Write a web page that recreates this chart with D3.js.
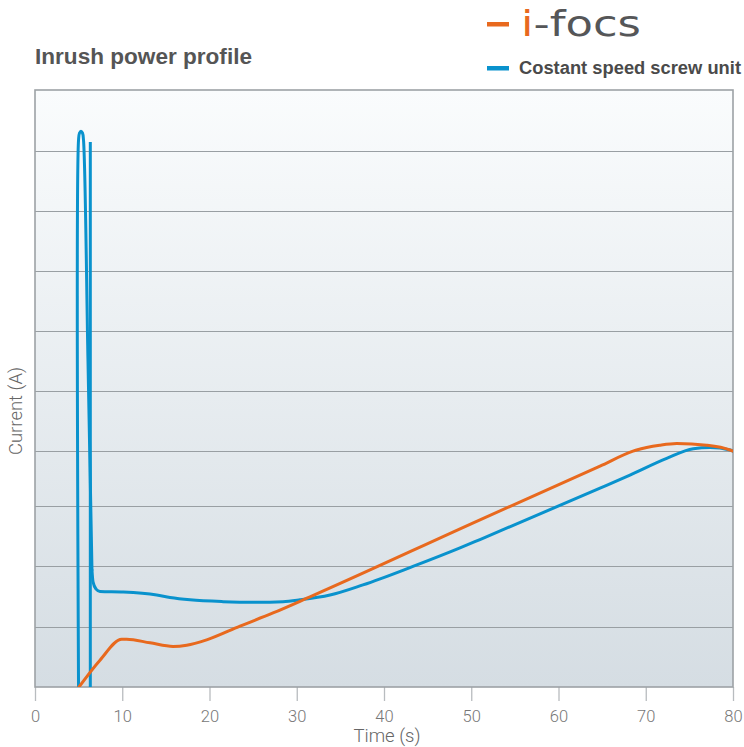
<!DOCTYPE html>
<html>
<head>
<meta charset="utf-8">
<title>Inrush power profile</title>
<script src="https://cdn.jsdelivr.net/npm/d3@7"></script>
<style>
    body { margin: 0; background: #fff; }
    svg { display: block; }
</style>
</head>
<body>
<div id="chart"></div>
<script>
"use strict";

// x ticks (time in s)
var xTicks = [0, 10, 20, 30, 40, 50, 60, 70, 80];
// horizontal grid lines (no labels on the y axis in the original)
var gridValues = [1.005, 2.03, 3.03, 3.95, 4.96, 5.96, 6.97, 7.97, 8.98];

// i-focs series : [time, current]
var ifocsTime    = [5.04, 7.45, 9.94, 10.51, 13.18, 15.82, 17.39, 19.68, 23.5, 27.28, 31.52, 51.0, 64.76, 68.54, 68.96, 71.6, 73.55, 76.98, 79.66, 80];
var ifocsCurrent = [0, 0.45, 0.80, 0.80, 0.74, 0.68, 0.70, 0.79, 1.02, 1.24, 1.51, 2.80, 3.70, 3.95, 3.97, 4.05, 4.08, 4.05, 3.97, 3.95];

// constant speed screw unit : start-up spike, then the running curve
var screwSpikeTime    = [4.99, 4.99, 5.10, 5.27, 5.44, 5.56, 6.07, 6.53];
var screwSpikeCurrent = [0, 9.16, 9.28, 9.31, 9.28, 9.16, 5.48, 1.96];
var screwTime    = [6.53, 6.65, 7.0, 7.45, 10.12, 13.95, 15.47, 17.77, 21.55, 25.41, 28.42, 30.37, 33.81, 37.59, 43.32, 48.71, 51.0, 64.76, 68.19, 72.4, 75.45, 77.36, 79.66, 80];
var screwCurrent = [1.96, 1.76, 1.64, 1.60, 1.59, 1.54, 1.50, 1.46, 1.43, 1.42, 1.43, 1.46, 1.54, 1.71, 2.02, 2.33, 2.47, 3.33, 3.55, 3.83, 3.99, 4.01, 3.97, 3.95];

// the second vertical stroke of the screw unit start-up
var screwStrokeTime    = [6.34, 6.34];
var screwStrokeCurrent = [0, 9.13];

var width = 744, height = 747;
var margin = {top: 90, right: 11, bottom: 60, left: 35};

var ORANGE = '#e8691e', BLUE = '#0992cd';

var svg = d3.select('#chart').append('svg')
    .attr('width', width).attr('height', height);

var x = d3.scaleLinear().domain([0, 80]).range([margin.left, width - margin.right]);
var y = d3.scaleLinear().domain([0, 10]).range([height - margin.bottom, margin.top]);

var defs = svg.append('defs');
var bg = defs.append('linearGradient').attr('id', 'bg')
    .attr('x1', 0).attr('y1', 0).attr('x2', 0).attr('y2', 1);
bg.append('stop').attr('offset', '0%').attr('stop-color', '#fafcfd');
bg.append('stop').attr('offset', '100%').attr('stop-color', '#d5dde3');

defs.append('clipPath').attr('id', 'plotclip').append('rect')
    .attr('x', x(0)).attr('y', y(10))
    .attr('width', x(80) - x(0)).attr('height', y(0) - y(10));

// plot background
svg.append('rect')
    .attr('x', x(0)).attr('y', y(10))
    .attr('width', x(80) - x(0)).attr('height', y(0) - y(10))
    .attr('fill', 'url(#bg)');

// grid lines
svg.append('g').selectAll('line').data(gridValues).enter().append('line')
    .attr('x1', x(0)).attr('x2', x(80))
    .attr('y1', function(d) { return Math.round(y(d)) + 0.5; })
    .attr('y2', function(d) { return Math.round(y(d)) + 0.5; })
    .attr('stroke', '#999fa3').attr('stroke-width', 1.2);

// x axis
var xAxis = svg.append('g')
    .attr('transform', 'translate(0,' + y(0) + ')')
    .call(d3.axisBottom(x).tickValues(xTicks).tickSize(14).tickPadding(9));
xAxis.select('.domain').remove();
xAxis.selectAll('.tick line').attr('stroke', '#b8bcbf').attr('stroke-width', 1.3);
xAxis.selectAll('.tick text')
    .attr('fill', '#777').attr('font-size', 16.5)
    .attr('font-family', 'Roboto, "Liberation Sans", sans-serif').attr('font-weight', 300);

// frame
svg.append('rect')
    .attr('x', x(0)).attr('y', y(10))
    .attr('width', x(80) - x(0)).attr('height', y(0) - y(10))
    .attr('fill', 'none').attr('stroke', '#9da2a6').attr('stroke-width', 1.6);

// lines
function makeLine(curve) {
    return d3.line()
        .x(function(d) { return x(d[0]); })
        .y(function(d) { return y(d[1]); })
        .curve(curve);
}
var spikeLine = makeLine(d3.curveCatmullRom.alpha(0.5));
var smoothLine = makeLine(d3.curveMonotoneX);
var straight = makeLine(d3.curveLinear);

var plot = svg.append('g').attr('clip-path', 'url(#plotclip)')
    .attr('fill', 'none').attr('stroke-width', 3)
    .attr('stroke-linejoin', 'round').attr('stroke-linecap', 'round');

plot.append('path').datum(d3.zip(screwSpikeTime, screwSpikeCurrent))
    .attr('d', spikeLine).attr('stroke', BLUE);
plot.append('path').datum(d3.zip(screwTime, screwCurrent))
    .attr('d', smoothLine).attr('stroke', BLUE);
plot.append('path').datum(d3.zip(screwStrokeTime, screwStrokeCurrent))
    .attr('d', straight).attr('stroke', BLUE).attr('stroke-linecap', 'butt');
plot.append('path').datum(d3.zip(ifocsTime, ifocsCurrent))
    .attr('d', smoothLine).attr('stroke', ORANGE);

// titles
svg.append('text')
    .attr('x', 35).attr('y', 64)
    .attr('font-family', '"Liberation Sans", Arial, sans-serif')
    .attr('font-weight', 'bold').attr('font-size', 22)
    .attr('textLength', 217).attr('lengthAdjust', 'spacingAndGlyphs')
    .attr('fill', '#555')
    .text('Inrush power profile');

svg.append('text')
    .attr('transform', 'translate(22,' + 411 + ') rotate(-90)')
    .attr('text-anchor', 'middle')
    .attr('font-family', 'Roboto, "Liberation Sans", sans-serif').attr('font-weight', 300)
    .attr('font-size', 18.5).attr('fill', '#666')
    .text('Current (A)');

svg.append('text')
    .attr('x', 387).attr('y', 742)
    .attr('text-anchor', 'middle')
    .attr('font-family', 'Roboto, "Liberation Sans", sans-serif').attr('font-weight', 300)
    .attr('font-size', 18.5).attr('fill', '#666')
    .text('Time (s)');

// legend
var legend = svg.append('g');
legend.append('rect').attr('x', 487).attr('y', 22).attr('width', 22).attr('height', 4.5).attr('fill', ORANGE);
legend.append('rect').attr('x', 487).attr('y', 66).attr('width', 22).attr('height', 4.5).attr('fill', BLUE);

// i-focs logo
var logo = legend.append('text')
    .attr('x', 521).attr('y', 36)
    .attr('font-family', '"DejaVu Sans", sans-serif')
    .attr('font-size', 35)
    .attr('textLength', 120).attr('lengthAdjust', 'spacingAndGlyphs');
logo.append('tspan').attr('fill', ORANGE).text('i');
logo.append('tspan').attr('fill', '#555658').text('-focs');

legend.append('text')
    .attr('x', 519).attr('y', 74)
    .attr('font-family', '"Liberation Sans", Arial, sans-serif')
    .attr('font-weight', 'bold').attr('font-size', 18)
    .attr('textLength', 222).attr('lengthAdjust', 'spacingAndGlyphs')
    .attr('fill', '#4a4a4a')
    .text('Costant speed screw unit');
</script>
</body>
</html>
